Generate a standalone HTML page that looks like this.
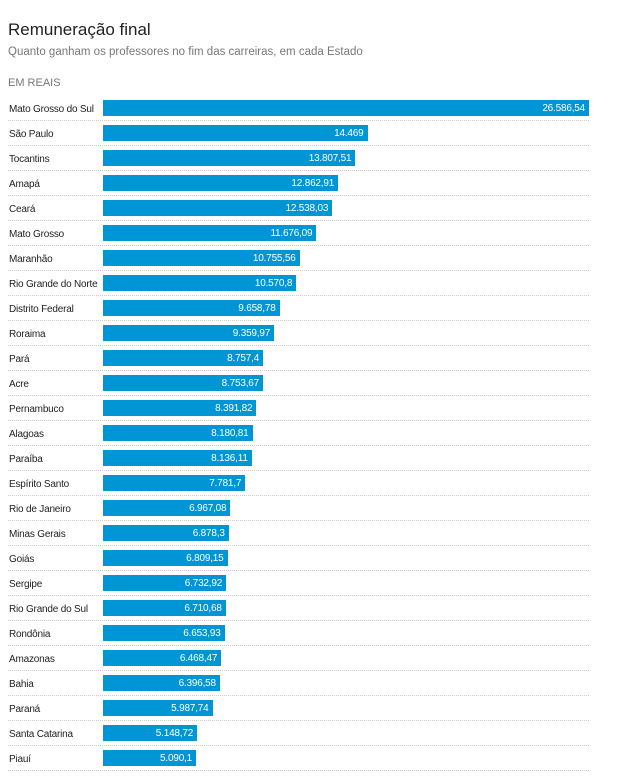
<!DOCTYPE html><html><head><meta charset="utf-8"><style>
body{margin:0;width:635px;height:776px;background:#fff;font-family:"Liberation Sans",sans-serif;position:relative;overflow:hidden}
.t{position:absolute;left:8px;top:20px;font-size:17px;color:#222}
.s{position:absolute;left:8px;top:46px;font-size:11.5px;color:#777}
.u{position:absolute;left:8px;top:77px;font-size:11px;color:#777}
.r{position:absolute;left:8px;width:581px;height:25px}
.r .l{position:absolute;left:1px;top:5px;font-size:10px;letter-spacing:-0.2px;color:#222;line-height:16px;white-space:nowrap}
.r .b{position:absolute;left:95px;top:3px;height:16px;background:#0096d6}
.r .v{position:absolute;right:4px;top:1px;line-height:16px;font-size:10px;letter-spacing:-0.2px;color:#fff}
.r .d{position:absolute;left:0;right:0;top:23px;border-top:1px dotted #ccc}
</style></head><body>
<div class="t">Remuneração final</div>
<div class="s">Quanto ganham os professores no fim das carreiras, em cada Estado</div>
<div class="u">EM REAIS</div>
<div id="c"></div>
<script>
var d=[["Mato Grosso do Sul",26586.54,"26.586,54"],["São Paulo",14469,"14.469"],["Tocantins",13807.51,"13.807,51"],["Amapá",12862.91,"12.862,91"],["Ceará",12538.03,"12.538,03"],["Mato Grosso",11676.09,"11.676,09"],["Maranhão",10755.56,"10.755,56"],["Rio Grande do Norte",10570.8,"10.570,8"],["Distrito Federal",9658.78,"9.658,78"],["Roraima",9359.97,"9.359,97"],["Pará",8757.4,"8.757,4"],["Acre",8753.67,"8.753,67"],["Pernambuco",8391.82,"8.391,82"],["Alagoas",8180.81,"8.180,81"],["Paraíba",8136.11,"8.136,11"],["Espírito Santo",7781.7,"7.781,7"],["Rio de Janeiro",6967.08,"6.967,08"],["Minas Gerais",6878.3,"6.878,3"],["Goiás",6809.15,"6.809,15"],["Sergipe",6732.92,"6.732,92"],["Rio Grande do Sul",6710.68,"6.710,68"],["Rondônia",6653.93,"6.653,93"],["Amazonas",6468.47,"6.468,47"],["Bahia",6396.58,"6.396,58"],["Paraná",5987.74,"5.987,74"],["Santa Catarina",5148.72,"5.148,72"],["Piauí",5090.1,"5.090,1"]];
var h="";d.forEach(function(x,i){var w=x[1]/26586.54*486;
h+='<div class="r" style="top:'+(97+i*25)+'px"><div class="l">'+x[0]+'</div><div class="b" style="width:'+w.toFixed(1)+'px"><span class="v">'+x[2]+'</span></div><div class="d"></div></div>';});
document.getElementById("c").innerHTML=h;
</script>
</body></html>
